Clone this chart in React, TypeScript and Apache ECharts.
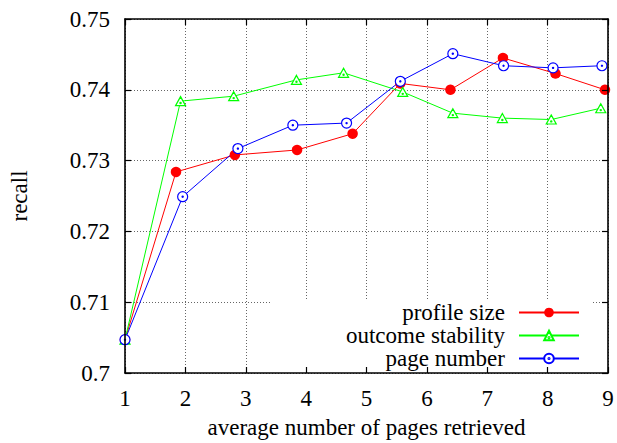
import React, { useEffect, useRef } from "react";
import * as echarts from "echarts";

// Series: recall vs. average number of pages retrieved
const profileX = [1, 1.845, 2.82, 3.85, 4.77, 5.56, 6.39, 7.26, 8.13, 8.95];
const profileY = [0.7047, 0.7284, 0.7308, 0.7315, 0.7338, 0.7409, 0.74, 0.7445, 0.7423, 0.74];

const stabilityX = [1, 1.92, 2.8, 3.84, 4.62, 5.6, 6.43, 7.25, 8.06, 8.88];
const stabilityY = [0.7047, 0.7384, 0.7391, 0.7414, 0.7424, 0.7397, 0.7367, 0.736, 0.7358, 0.7374];

const pageX = [1, 1.955, 2.87, 3.78, 4.67, 5.56, 6.43, 7.27, 8.09, 8.9];
const pageY = [0.7047, 0.7249, 0.7317, 0.735, 0.7353, 0.7412, 0.7451, 0.7434, 0.7431, 0.7434];

const seriesNames = ["profile size", "outcome stability", "page number"];
const xTicks = { min: 1, max: 9, interval: 1 };
const yTicks = { min: 0.7, max: 0.75, interval: 0.01 };

const FONT = "Times New Roman, Liberation Serif, DejaVu Serif, serif";
const FS = 23;

const circleDot =
  "path://M0,-5A5,5 0 1,1 0,5A5,5 0 1,1 0,-5Z M0,-0.6A0.6,0.6 0 1,1 0,0.6A0.6,0.6 0 1,1 0,-0.6Z";
const triangleDot =
  "path://M0,-5L5,4L-5,4Z M0,0.8A0.6,0.6 0 1,1 0,2A0.6,0.6 0 1,1 0,0.8Z";

const zip = (xs: number[], ys: number[]) => xs.map((x, i) => [x, ys[i]]);

export default function App() {
  const ref = useRef<HTMLDivElement>(null);

  useEffect(() => {
    if (!ref.current) return;
    const chart = echarts.init(ref.current, null, { renderer: "svg" });

    const frameLine = { show: true, lineStyle: { color: "#000", width: 1.6 } };
    const innerTick = { show: true, inside: true, length: 6, lineStyle: { color: "#000", width: 1.2 } };
    const grid = { show: true, lineStyle: { color: "#666", width: 1, type: [1, 2] as any } };
    const none = { show: false };
    const txt = { color: "#000", fontFamily: FONT, fontSize: FS };

    chart.setOption({
      animation: false,
      backgroundColor: "#fff",
      textStyle: { fontFamily: FONT },
      grid: {
        left: 125, right: 9, top: 19, bottom: 70,
        containLabel: false, outerBoundsMode: "none",
      },
      xAxis: [
        {
          type: "value", ...xTicks, position: "bottom", z: 0,
          axisLine: none, axisTick: none, axisLabel: none, splitLine: grid,
        },
        {
          type: "value", ...xTicks, position: "bottom", z: 5,
          axisLine: frameLine, axisTick: innerTick, splitLine: none,
          axisLabel: { show: true, ...txt, margin: 14 },
          name: "average number of pages retrieved", nameLocation: "middle", nameGap: 43,
          nameTextStyle: txt,
        },
        {
          type: "value", ...xTicks, position: "top", z: 5,
          axisLine: frameLine, axisTick: innerTick, axisLabel: none, splitLine: none,
        },
      ],
      yAxis: [
        {
          type: "value", ...yTicks, position: "left", z: 0,
          axisLine: none, axisTick: none, axisLabel: none, splitLine: grid,
        },
        {
          type: "value", ...yTicks, position: "left", z: 5,
          axisLine: frameLine, axisTick: innerTick, splitLine: none,
          axisLabel: { show: true, ...txt, margin: 15 },
          name: "recall", nameLocation: "middle", nameRotate: 90, nameGap: 94,
          nameTextStyle: txt,
        },
        {
          type: "value", ...yTicks, position: "right", z: 5,
          axisLine: frameLine, axisTick: innerTick, axisLabel: none, splitLine: none,
        },
      ],
      graphic: [
        {
          type: "rect", z: 1, silent: true,
          shape: { x: 272, y: 299, width: 321, height: 73 },
          style: { fill: "#fff" },
        },
      ],
      legend: {
        orient: "vertical", align: "right", right: 37, top: 301, padding: 0,
        itemWidth: 60, itemHeight: 12, itemGap: 0,
        data: seriesNames,
        textStyle: { ...txt, lineHeight: 22.8, padding: [0, 9, 0, 0] },
      },
      series: [
        {
          name: seriesNames[0], type: "line", xAxisIndex: 0, yAxisIndex: 0,
          data: zip(profileX, profileY),
          symbol: "circle", symbolSize: 10.5,
          itemStyle: { color: "#ff0000" },
          lineStyle: { color: "#ff0000", width: 1 },
        },
        {
          name: seriesNames[1], type: "line", xAxisIndex: 0, yAxisIndex: 0,
          data: zip(stabilityX, stabilityY),
          symbol: triangleDot, symbolSize: [10, 9],
          itemStyle: { color: "#fff", borderColor: "#00ff00", borderWidth: 1.2 },
          lineStyle: { color: "#00ff00", width: 1 },
        },
        {
          name: seriesNames[2], type: "line", xAxisIndex: 0, yAxisIndex: 0,
          data: zip(pageX, pageY),
          symbol: circleDot, symbolSize: 10,
          itemStyle: { color: "#fff", borderColor: "#0000ff", borderWidth: 1.2 },
          lineStyle: { color: "#0000ff", width: 1 },
        },
      ],
    });

    return () => chart.dispose();
  }, []);

  return (
    <div
      ref={ref}
      style={{ position: "fixed", left: 0, top: 0, width: 617, height: 443 }}
    />
  );
}
